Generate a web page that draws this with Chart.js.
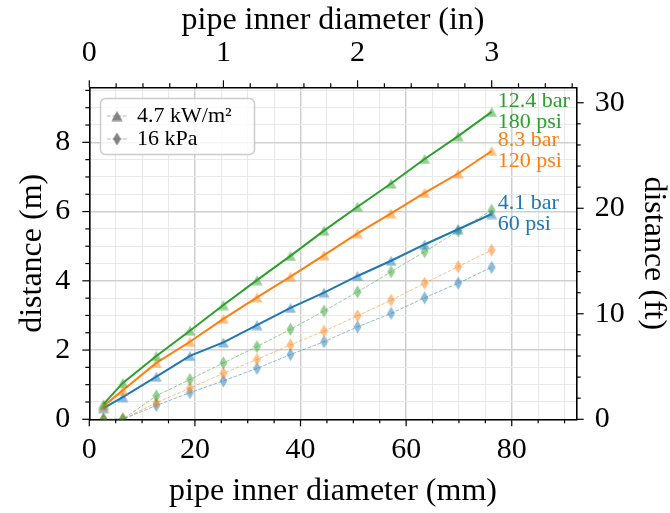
<!DOCTYPE html>
<html>
<head>
<meta charset="utf-8">
<script src="https://cdn.jsdelivr.net/npm/chart.js@4.4.1/dist/chart.umd.min.js"></script>
<style>
  html, body { margin: 0; padding: 0; background: #fff; }
</style>
</head>
<body>
<canvas id="chart" width="670" height="513"></canvas>
<script>
// pipe inner diameters in mm (first one is the small bleed line)
const diameterMm = [2.7, 6.35, 12.7, 19.05, 25.4, 31.75, 38.1, 44.45, 50.8, 57.15, 63.5, 69.85, 76.2];

// distance to 4.7 kW/m² radiant heat (m)
const heat180psi = [0.44, 1.05, 1.83, 2.56, 3.30, 4.02, 4.72, 5.45, 6.14, 6.81, 7.52, 8.18, 8.88];
const heat120psi = [0.38, 0.84, 1.63, 2.24, 2.90, 3.52, 4.12, 4.74, 5.37, 5.95, 6.54, 7.10, 7.75];
const heat60psi = [0.32, 0.64, 1.23, 1.83, 2.22, 2.72, 3.22, 3.66, 4.14, 4.58, 5.05, 5.49, 5.93];

// distance to 16 kPa overpressure (m)
const blast180psi = [0, 0, 0.68, 1.15, 1.63, 2.10, 2.60, 3.13, 3.68, 4.26, 4.84, 5.44, 6.04];
const blast120psi = [0, 0, 0.48, 0.90, 1.33, 1.73, 2.15, 2.55, 2.99, 3.44, 3.93, 4.41, 4.89];
const blast60psi = [0, 0, 0.40, 0.77, 1.11, 1.47, 1.87, 2.24, 2.67, 3.06, 3.51, 3.93, 4.39];

const pressureLabels = [['12.4 bar', '180 psi'], ['8.3 bar', '120 psi'], ['4.1 bar', '60 psi']];
const legendLabels = ['4.7 kW/m²', '16 kPa'];

// axis ticks
const mmMajor = [0, 20, 40, 60, 80];
const inMajor = [0, 1, 2, 3];
const mMajor = [0, 2, 4, 6, 8];
const ftMajor = [0, 10, 20, 30];

const xMaxMm = 92.3;
const yMaxM = 9.59;

const colors = ['#2ca02c', '#ff7f0e', '#1f77b4'];
const serif = '"Liberation Serif", "Times New Roman", serif';

function rgba(hex, a) {
  const n = parseInt(hex.slice(1), 16);
  return `rgba(${n >> 16},${(n >> 8) & 255},${n & 255},${a})`;
}

function triangleMarker(color) {
  const c = document.createElement('canvas');
  c.width = 12; c.height = 11;
  const g = c.getContext('2d');
  g.fillStyle = color;
  g.beginPath();
  g.moveTo(6, 0.5); g.lineTo(11.5, 10.5); g.lineTo(0.5, 10.5);
  g.closePath(); g.fill();
  return c;
}

function diamondMarker(color) {
  const c = document.createElement('canvas');
  c.width = 9; c.height = 14;
  const g = c.getContext('2d');
  g.fillStyle = color;
  g.beginPath();
  g.moveTo(4.5, 0.5); g.lineTo(8.5, 7); g.lineTo(4.5, 13.5); g.lineTo(0.5, 7);
  g.closePath(); g.fill();
  return c;
}

function tickList(max, step, majors) {
  const out = [];
  for (let i = 0; i * step <= max + 1e-9; i++) {
    const v = Math.round(i * step * 1000) / 1000;
    out.push({ value: v, isMajor: majors.includes(v) });
  }
  return out;
}

const points = s => diameterMm.map((x, i) => ({ x, y: s[i] }));

const heatSets = [heat180psi, heat120psi, heat60psi];
const blastSets = [blast180psi, blast120psi, blast60psi];

const datasets = [];
heatSets.forEach((s, k) => datasets.push({
  data: points(s),
  borderColor: colors[k],
  borderWidth: 2,
  pointStyle: triangleMarker(rgba(colors[k], 0.5)),
  pointRadius: 5,
}));
blastSets.forEach((s, k) => datasets.push({
  data: points(s),
  borderColor: rgba(colors[k], 0.5),
  borderWidth: 1,
  borderDash: [3.7, 1.6],
  pointStyle: diamondMarker(rgba(colors[k], 0.5)),
  pointRadius: 5,
}));

function axis(opts) {
  const { position, max, step, majors, title, size, tickPad, titlePad, grid } = opts;
  const horizontal = position === 'top' || position === 'bottom';
  return {
    type: 'linear',
    position,
    min: 0,
    max,
    afterBuildTicks: s => { s.ticks = tickList(max, step, majors); },
    afterFit: s => { if (horizontal) s.height = size; else s.width = size; },
    ticks: {
      autoSkip: false,
      maxRotation: 0,
      minRotation: 0,
      padding: tickPad,
      color: '#000',
      font: { family: serif, size: 30, lineHeight: 1.2 },
      callback: v => (majors.includes(v) ? String(v) : ''),
    },
    grid: grid ? {
      drawTicks: false,
      color: c => (c.tick && c.tick.isMajor ? '#cfcfcf' : '#e9e9e9'),
      lineWidth: c => (c.tick && c.tick.isMajor ? 1.5 : 1.1),
    } : { display: false, drawTicks: false },
    border: { display: true, color: '#000', width: 1.6 },
    title: {
      display: true,
      text: title,
      color: '#000',
      font: { family: serif, size: 32, lineHeight: 1.2 },
      padding: titlePad,
    },
  };
}

// outward tick marks, long on majors and short on minors
const tickMarks = {
  id: 'tickMarks',
  afterDraw(chart) {
    const { ctx, chartArea } = chart;
    ctx.save();
    ctx.strokeStyle = '#000';
    ctx.lineWidth = 1.2;
    for (const scale of Object.values(chart.scales)) {
      for (const t of scale.ticks) {
        const len = t.isMajor ? 7 : 4;
        const p = scale.getPixelForValue(t.value);
        ctx.beginPath();
        if (scale.position === 'bottom') { ctx.moveTo(p, chartArea.bottom); ctx.lineTo(p, chartArea.bottom + len); }
        if (scale.position === 'top') { ctx.moveTo(p, chartArea.top); ctx.lineTo(p, chartArea.top - len); }
        if (scale.position === 'left') { ctx.moveTo(chartArea.left, p); ctx.lineTo(chartArea.left - len, p); }
        if (scale.position === 'right') { ctx.moveTo(chartArea.right, p); ctx.lineTo(chartArea.right + len, p); }
        ctx.stroke();
      }
    }
    ctx.restore();
  },
};

// pressure labels at line ends plus the in-plot legend box
const labelsAndLegend = {
  id: 'labelsAndLegend',
  afterDatasetsDraw(chart) {
    const { ctx } = chart;
    const x = chart.scales.x, y = chart.scales.y;
    const last = diameterMm.length - 1;
    ctx.save();
    ctx.font = `22px ${serif}`;
    ctx.textAlign = 'left';
    ctx.textBaseline = 'middle';
    heatSets.forEach((s, k) => {
      const px = x.getPixelForValue(diameterMm[last]);
      const py = y.getPixelForValue(s[last]);
      ctx.fillStyle = colors[k];
      ctx.fillText(pressureLabels[k][0], px + 6, py - 11);
      ctx.fillText(pressureLabels[k][1], px + 6, py + 10);
    });

    ctx.beginPath();
    ctx.roundRect(100.5, 98.5, 154, 56, 5);
    ctx.fillStyle = 'rgba(255,255,255,0.8)';
    ctx.fill();
    ctx.strokeStyle = '#cccccc';
    ctx.lineWidth = 1.5;
    ctx.stroke();

    const markers = [triangleMarker('rgba(110,110,110,0.85)'), diamondMarker('rgba(110,110,110,0.85)')];
    const rows = [116, 139];
    rows.forEach((ry, i) => {
      ctx.beginPath();
      ctx.setLineDash([3.7, 1.6]);
      ctx.strokeStyle = 'rgba(128,128,128,0.6)';
      ctx.lineWidth = 1;
      ctx.moveTo(107, ry); ctx.lineTo(127, ry);
      ctx.stroke();
      ctx.setLineDash([]);
      ctx.drawImage(markers[i], 117 - markers[i].width / 2, ry - markers[i].height / 2);
      ctx.fillStyle = '#000';
      ctx.fillText(legendLabels[i], 137, ry);
    });
    ctx.restore();
  },
};

new Chart(document.getElementById('chart'), {
  type: 'line',
  data: { datasets },
  options: {
    responsive: false,
    animation: false,
    events: [],
    devicePixelRatio: 1,
    layout: { padding: 0 },
    plugins: { legend: { display: false }, tooltip: { enabled: false } },
    scales: {
      x: axis({ position: 'bottom', max: xMaxMm, step: 5, majors: mmMajor, title: 'pipe inner diameter (mm)', size: 93.7, tickPad: 13, titlePad: { bottom: 2 }, grid: true }),
      xTop: axis({ position: 'top', max: xMaxMm / 25.4, step: 0.2, majors: inMajor, title: 'pipe inner diameter (in)', size: 87.3, tickPad: 16, titlePad: { top: 1 }, grid: false }),
      y: axis({ position: 'left', max: yMaxM, step: 0.5, majors: mMajor, title: 'distance (m)', size: 89.3, tickPad: 19, titlePad: { top: 13 }, grid: true }),
      yRight: axis({ position: 'right', max: yMaxM / 0.3048, step: 2, majors: ftMajor, title: 'distance (ft)', size: 93.3, tickPad: 18, titlePad: { top: -3 }, grid: false }),
    },
  },
  plugins: [tickMarks, labelsAndLegend],
});
</script>
</body>
</html>
